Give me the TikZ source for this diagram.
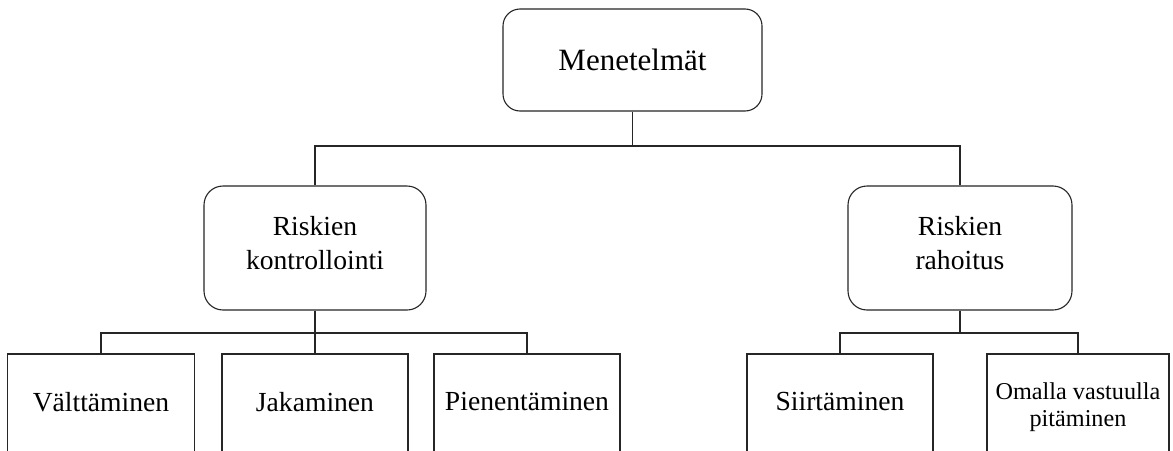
\documentclass[tikz,border=0pt]{standalone}
\usepackage{fontspec}
\setmainfont{Liberation Serif}
\begin{document}
\begin{tikzpicture}[x=1pt,y=-1pt,
  rbox/.style={draw=black!85, line width=1.1pt, rounded corners=17pt, align=center, inner sep=0pt},
  sbox/.style={draw=black!85, line width=1.1pt, align=center, inner sep=0pt, minimum width=186pt, minimum height=101pt, font=\fontsize{27.6}{33}\selectfont},
  conn/.style={draw=black!85, line width=1.1pt}
]
\useasboundingbox (0,0) rectangle (1173,450);
\clip (0,0) rectangle (1173,450);
\fill[white] (0,0) rectangle (1173,450);

\node[rbox, minimum width=259pt, minimum height=102pt, font=\fontsize{31}{37}\selectfont] (top) at (632.5,60) {Menetelmät};
\node[rbox, rounded corners=19pt, minimum width=222pt, minimum height=124pt, font=\fontsize{27.6}{33.3}\selectfont] (rk) at (315,248) {Riskien\\kontrollointi\strut};
\node[rbox, rounded corners=19pt, minimum width=224pt, minimum height=124pt, font=\fontsize{27.6}{33.3}\selectfont] (rr) at (960,248) {Riskien\\rahoitus\strut};

\node[sbox, minimum width=187pt] (v) at (101,404.5) {Välttäminen\vphantom{p}};
\node[sbox] (j) at (315,404.5) {Jakaminen\vphantom{p}};
\node[sbox] (p) at (527,404.5) {Pienentäminen\vphantom{p}};
\node[sbox] (s) at (840,404.5) {Siirtäminen\vphantom{p}};
\node[sbox, minimum width=182pt, font=\fontsize{24.2}{27}\selectfont] (o) at (1078,404.5) {\rule{0pt}{22pt}Omalla vastuulla\\pitäminen};

\coordinate (j0) at (top.south |- 0,146);
\coordinate (j1) at (rk.south |- 0,333);
\coordinate (j2) at (rr.south |- 0,333);

\draw[conn] (top.south) -- (j0);
\draw[conn] (rk.north) |- (j0) -| (rr.north);
\draw[conn] (rk.south) -- (j.north);
\draw[conn] (v.north) |- (j1) -| (p.north);
\draw[conn] (rr.south) -- (j2);
\draw[conn] (s.north) |- (j2) -| (o.north);
\end{tikzpicture}
\end{document}
